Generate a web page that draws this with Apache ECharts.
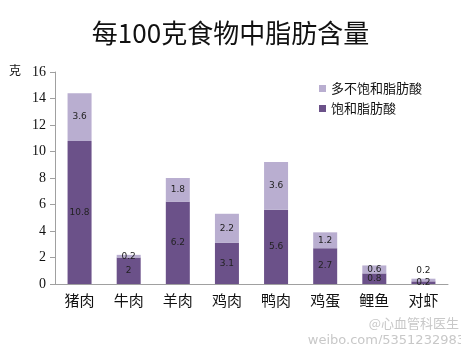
<!DOCTYPE html>
<html><head><meta charset="utf-8">
<script src="https://cdn.jsdelivr.net/npm/echarts@6/dist/echarts.min.js"></script>
<style>html,body{margin:0;padding:0;background:#fff}#c{width:461px;height:344px}</style>
</head><body><div id="c"></div>
<script>
var categories = ['猪肉','牛肉','羊肉','鸡肉','鸭肉','鸡蛋','鲤鱼','对虾'];
var saturated = [10.8, 2, 6.2, 3.1, 5.6, 2.7, 0.8, 0.2];
var polyunsaturated = [3.6, 0.2, 1.8, 2.2, 3.6, 1.2, 0.6, 0.2];
var yTicks = [0, 2, 4, 6, 8, 10, 12, 14, 16];

var chart = echarts.init(document.getElementById('c'));
var lblFont = {fontSize: 9, color: '#222', fontFamily: 'DejaVu Sans'};
chart.setOption({
  animation: false,
  title: {
    text: '每100克食物中脂肪含量', left: 'center', top: 15,
    textStyle: {fontSize: 26, fontWeight: 'normal', color: '#111', fontFamily: 'Noto Sans CJK SC'}
  },
  legend: {
    orient: 'vertical', left: 314, top: 77, itemGap: 7, itemWidth: 7, itemHeight: 7,
    icon: 'rect',
    data: ['多不饱和脂肪酸', '饱和脂肪酸'],
    textStyle: {fontSize: 13, color: '#111', fontFamily: 'Noto Sans CJK SC'}
  },
  grid: {left: 55, right: 13, top: 72, bottom: 60, containLabel: false},
  xAxis: {
    type: 'category', data: categories,
    axisLine: {lineStyle: {color: '#a0a0a0'}},
    axisTick: {show: false},
    axisLabel: {fontSize: 15, color: '#111', margin: 9, fontFamily: 'Noto Sans CJK SC'}
  },
  yAxis: {
    type: 'value', min: 0, max: 16, interval: 2,
    splitLine: {show: false},
    axisLine: {show: true, lineStyle: {color: '#a0a0a0'}},
    axisTick: {show: true, length: 5, lineStyle: {color: '#a0a0a0'}},
    axisLabel: {fontSize: 14, color: '#111', margin: 9, fontFamily: 'Liberation Serif',
      formatter: function(v){ return yTicks.indexOf(v) >= 0 ? String(v) : ''; }}
  },
  series: [
    {
      name: '饱和脂肪酸', type: 'bar', stack: 'fat', barWidth: 24,
      itemStyle: {color: '#6b5189'},
      label: Object.assign({show: true, position: 'inside'}, lblFont),
      data: saturated
    },
    {
      name: '多不饱和脂肪酸', type: 'bar', stack: 'fat', barWidth: 24,
      itemStyle: {color: '#b9aed0'},
      label: Object.assign({show: true, position: 'inside'}, lblFont),
      data: polyunsaturated.map(function(v, i){
        if (i === categories.length - 1) return {value: v, label: {position: 'top', distance: 4}};
        return v;
      })
    }
  ],
  graphic: [
    {type: 'text', left: 9, top: 64, style: {text: '克', fontSize: 12, fill: '#111', fontFamily: 'Noto Sans CJK SC'}},
    {type: 'text', right: 2, bottom: 14, style: {text: '@心血管科医生', fontSize: 13, fill: '#c8c8c8', fontFamily: 'Noto Sans CJK SC'}},
    {type: 'text', right: -4, bottom: -3, style: {text: 'weibo.com/5351232983', fontSize: 13, fill: '#c8c8c8', fontFamily: 'DejaVu Sans'}}
  ]
});
</script></body></html>
